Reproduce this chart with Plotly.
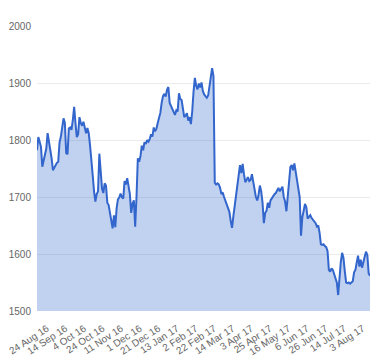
import pandas as pd
import plotly.graph_objects as go

uk_holidays = ["2016-08-29", "2016-12-26", "2016-12-27", "2017-01-02",
               "2017-04-14", "2017-04-17", "2017-05-01", "2017-05-29"]

values = [
    1782, 1805, 1797, 1788, 1753, 1762, 1775, 1785, 1812, 1798,
    1788, 1768, 1747, 1752, 1756, 1760, 1762, 1796, 1806, 1820,
    1838, 1830, 1777, 1775, 1820, 1822, 1818, 1835, 1858, 1830,
    1805, 1810, 1840, 1830, 1825, 1832, 1820, 1812, 1821, 1812,
    1790, 1768, 1738, 1710, 1692, 1705, 1710, 1776, 1748, 1715,
    1707, 1724, 1720, 1690, 1686, 1670, 1658, 1645, 1668, 1647,
    1680, 1696, 1699, 1706, 1700, 1697, 1728, 1722, 1733, 1720,
    1705, 1672, 1688, 1694, 1648, 1700, 1768, 1762, 1772, 1790,
    1782, 1796, 1793, 1800, 1797, 1802, 1810, 1806, 1822, 1815,
    1820, 1830, 1838, 1848, 1866, 1877, 1881, 1876, 1888, 1893,
    1865, 1860, 1856, 1848, 1844, 1852, 1850, 1882, 1872, 1870,
    1856, 1840, 1843, 1847, 1834, 1840, 1828, 1850, 1885, 1909,
    1895, 1889, 1899, 1892, 1901, 1886, 1880, 1876, 1874, 1878,
    1893, 1909, 1926, 1912, 1725, 1722, 1724, 1722, 1716, 1705,
    1708, 1700, 1694, 1688, 1682, 1674, 1658, 1646, 1666, 1684,
    1698, 1712, 1730, 1756, 1742, 1758, 1740, 1726, 1730, 1735,
    1728, 1730, 1740, 1724, 1714, 1700, 1694, 1704, 1720, 1710,
    1690, 1654, 1672, 1676, 1690, 1681, 1694, 1698, 1702, 1705,
    1707, 1712, 1716, 1710, 1714, 1718, 1700, 1692, 1675, 1700,
    1738, 1753, 1756, 1747, 1759, 1745, 1732, 1715, 1700, 1632,
    1665, 1676, 1688, 1682, 1662, 1665, 1668, 1663, 1660, 1656,
    1654, 1648, 1650, 1637, 1617, 1616, 1617, 1614, 1612, 1605,
    1572, 1569, 1575, 1572, 1563, 1554, 1550, 1528, 1560, 1586,
    1602, 1593, 1570, 1550, 1549, 1550, 1548, 1550, 1552, 1568,
    1572, 1585, 1597, 1578, 1590, 1576, 1588, 1595, 1604, 1598,
    1566, 1562,
]

tick_labels = ["24 Aug 16", "14 Sep 16", "4 Oct 16", "24 Oct 16", "11 Nov 16",
               "1 Dec 16", "21 Dec 16", "13 Jan 17", "2 Feb 17", "22 Feb 17",
               "14 Mar 17", "3 Apr 17", "25 Apr 17", "16 May 17", "6 Jun 17",
               "26 Jun 17", "14 Jul 17", "3 Aug 17"]

y_ticks = [1500, 1600, 1700, 1800, 1900, 2000]

bday = pd.offsets.CustomBusinessDay(holidays=uk_holidays)
dates = pd.date_range("2016-08-24", periods=len(values), freq=bday)
categories = [f"{d.day} {d.strftime('%b %y')}" for d in dates]

fig = go.Figure()
fig.add_trace(go.Scatter(
    x=categories, y=values, mode="lines",
    line=dict(color="#3366cc", width=2),
    fill="tozeroy", fillcolor="rgba(51,102,204,0.3)",
    hoverinfo="x+y",
))

fig.update_layout(
    width=372, height=352,
    margin=dict(l=29, r=10, t=18, b=49),
    paper_bgcolor="white", plot_bgcolor="white",
    showlegend=False,
    font=dict(family="Arial, Liberation Sans, sans-serif", size=10, color="#666666"),
    xaxis=dict(
        type="category", automargin=False,
        range=[0, len(values) - 1],
        tickmode="array", tickvals=tick_labels, ticktext=tick_labels,
        tickangle=-33, showgrid=False, zeroline=False, showline=False,
        ticks="", ticklen=0, ticklabelstandoff=9, ticklabelshift=10,
    ),
    yaxis=dict(
        range=[1500, 2000], tickvals=y_ticks, automargin=False,
        showgrid=True, gridcolor="#ebebeb", gridwidth=1,
        zeroline=False, showline=False, ticks="",
        ticklabelstandoff=5,
    ),
)

fig.write_html("out.html")
